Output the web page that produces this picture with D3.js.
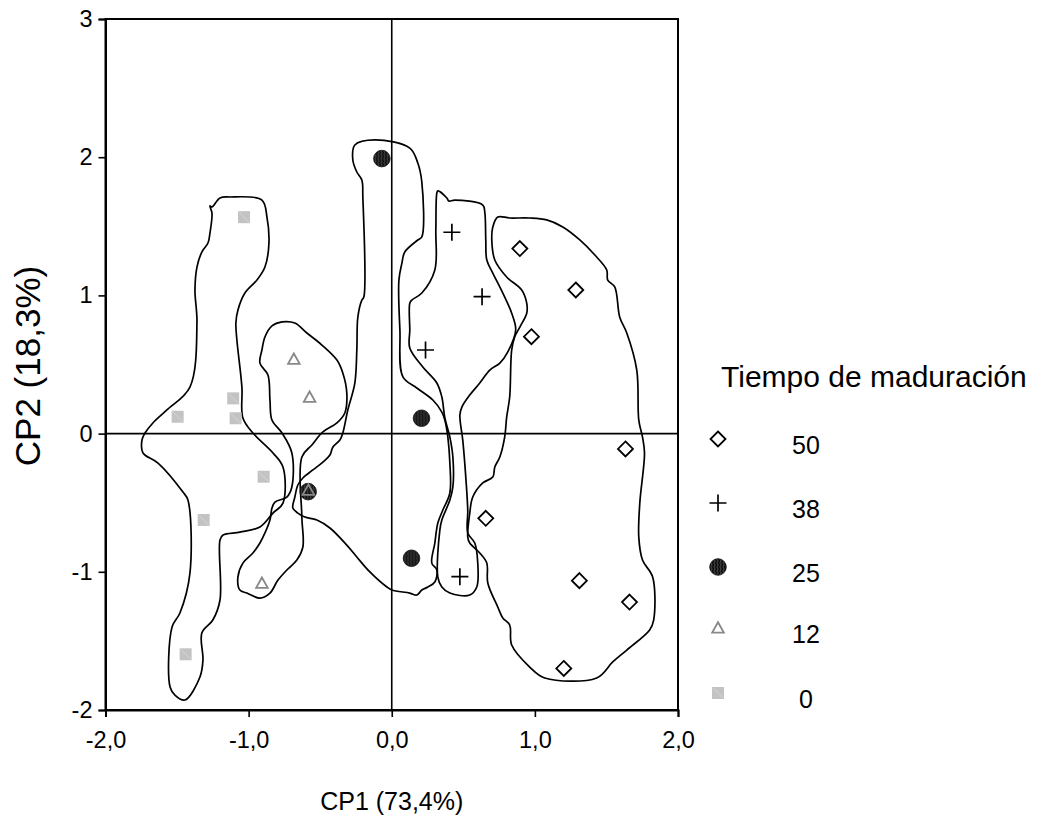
<!DOCTYPE html>
<html><head><meta charset="utf-8">
<script src="https://cdn.jsdelivr.net/npm/d3@7"></script>
<style>body{margin:0;background:#fff}svg{display:block;font-family:Arial,"Liberation Sans",sans-serif}</style>
</head><body><svg id="c" width="1038" height="836"></svg>
<script>
// ---- data ----
const groups = ["50","38","25","12","0"];
const g50 = [[0.895,1.339],[1.286,1.039],[0.976,0.701],[1.633,-0.111],[0.657,-0.613],[1.311,-1.064],[1.661,-1.219],[1.202,-1.699]];
const g38 = [[0.420,1.457],[0.631,0.991],[0.236,0.605],[0.476,-1.035]];
const g25 = [[-0.069,1.990],[0.208,0.111],[-0.584,-0.420],[0.138,-0.902]];
const g12 = [[-0.684,0.538],[-0.574,0.263],[-0.582,-0.410],[-0.907,-1.083]];
const g0  = [[-1.032,1.566],[-1.496,0.122],[-1.108,0.255],[-1.091,0.111],[-0.895,-0.312],[-1.314,-0.625],[-1.440,-1.597]];

const hull0 = [[-1.256,1.640],[-1.200,1.705],[-1.131,1.712],[-0.907,1.690],[-0.872,1.567],[-0.858,1.379],[-0.886,1.205],[-0.942,1.111],[-1.026,1.017],[-1.075,0.893],[-1.089,0.800],[-1.082,0.677],[-1.047,0.337],[-1.040,0.113],[-0.970,0.004],[-0.830,-0.140],[-0.760,-0.242],[-0.760,-0.503],[-0.830,-0.575],[-0.921,-0.676],[-1.061,-0.713],[-1.179,-0.734],[-1.200,-0.770],[-1.200,-1.204],[-1.250,-1.349],[-1.327,-1.443],[-1.319,-1.638],[-1.340,-1.761],[-1.445,-1.928],[-1.515,-1.892],[-1.549,-1.834],[-1.535,-1.399],[-1.480,-1.298],[-1.410,-1.009],[-1.424,-0.481],[-1.459,-0.423],[-1.633,-0.213],[-1.738,-0.140],[-1.745,-0.046],[-1.724,0.004],[-1.669,0.077],[-1.571,0.171],[-1.410,0.337],[-1.361,0.800],[-1.375,1.039],[-1.361,1.205],[-1.327,1.314],[-1.284,1.379],[-1.270,1.452],[-1.256,1.596],[-1.270,1.647]];
const hull12 = [[-0.886,0.699],[-0.837,0.779],[-0.767,0.808],[-0.677,0.800],[-0.593,0.728],[-0.488,0.641],[-0.383,0.532],[-0.342,0.439],[-0.314,0.294],[-0.328,0.149],[-0.383,0.077],[-0.481,0.012],[-0.558,-0.082],[-0.628,-0.169],[-0.628,-0.604],[-0.621,-0.821],[-0.663,-0.915],[-0.733,-0.987],[-0.795,-1.060],[-0.851,-1.154],[-0.921,-1.190],[-1.012,-1.154],[-1.061,-1.132],[-1.075,-1.038],[-1.040,-0.937],[-0.970,-0.864],[-0.921,-0.792],[-0.886,-0.719],[-0.851,-0.625],[-0.837,-0.539],[-0.816,-0.495],[-0.733,-0.459],[-0.698,-0.386],[-0.698,-0.140],[-0.767,0.004],[-0.837,0.098],[-0.851,0.243],[-0.865,0.424],[-0.921,0.510],[-0.907,0.605]];
const hull25 = [[-0.258,2.088],[-0.118,2.125],[0.126,2.066],[0.182,1.958],[0.210,1.821],[0.210,1.423],[0.182,1.401],[0.091,1.314],[0.071,1.234],[0.050,1.111],[0.057,0.750],[0.078,0.410],[0.175,0.330],[0.287,0.243],[0.350,0.156],[0.371,0.098],[0.392,-0.025],[0.406,-0.213],[0.406,-0.430],[0.357,-0.553],[0.322,-0.647],[0.301,-0.792],[0.280,-0.937],[0.315,-0.987],[0.301,-1.074],[0.252,-1.110],[0.210,-1.132],[0.175,-1.168],[0.126,-1.154],[0.001,-1.132],[-0.034,-1.110],[-0.153,-1.001],[-0.244,-0.893],[-0.314,-0.807],[-0.432,-0.683],[-0.523,-0.625],[-0.607,-0.604],[-0.656,-0.575],[-0.691,-0.539],[-0.677,-0.459],[-0.656,-0.372],[-0.621,-0.321],[-0.551,-0.263],[-0.481,-0.206],[-0.432,-0.155],[-0.411,-0.097],[-0.362,-0.046],[-0.342,0.004],[-0.307,0.171],[-0.258,0.366],[-0.244,0.605],[-0.237,0.842],[-0.209,0.966],[-0.195,0.988],[-0.202,1.712],[-0.209,1.835],[-0.244,1.893],[-0.272,1.980]];
const hull38 = [[0.322,1.756],[0.385,1.705],[0.399,1.683],[0.441,1.690],[0.636,1.654],[0.650,1.603],[0.657,1.401],[0.664,1.256],[0.706,1.162],[0.776,1.017],[0.838,0.871],[0.866,0.750],[0.810,0.590],[0.755,0.510],[0.685,0.460],[0.615,0.366],[0.545,0.279],[0.490,0.192],[0.476,0.135],[0.496,-0.046],[0.510,-0.213],[0.531,-0.553],[0.531,-0.719],[0.580,-0.792],[0.601,-0.937],[0.594,-1.110],[0.545,-1.168],[0.406,-1.154],[0.350,-1.110],[0.322,-1.038],[0.336,-0.698],[0.350,-0.625],[0.406,-0.481],[0.427,-0.386],[0.427,-0.169],[0.406,-0.025],[0.371,0.113],[0.350,0.265],[0.315,0.366],[0.217,0.482],[0.126,0.619],[0.126,0.750],[0.126,0.944],[0.140,0.966],[0.210,1.017],[0.301,1.184],[0.308,1.473],[0.315,1.741]];
const hull50 = [[0.741,1.567],[0.824,1.560],[0.964,1.560],[1.083,1.546],[1.195,1.495],[1.314,1.401],[1.419,1.292],[1.502,1.184],[1.509,1.111],[1.558,1.061],[1.593,0.842],[1.642,0.728],[1.712,0.460],[1.726,0.098],[1.752,-0.025],[1.766,-0.140],[1.733,-0.503],[1.726,-0.749],[1.752,-0.915],[1.823,-1.038],[1.830,-1.349],[1.802,-1.421],[1.642,-1.566],[1.544,-1.652],[1.432,-1.768],[1.069,-1.768],[0.964,-1.689],[0.838,-1.530],[0.824,-1.385],[0.776,-1.334],[0.741,-1.255],[0.671,-1.081],[0.664,-0.937],[0.615,-0.864],[0.545,-0.792],[0.531,-0.749],[0.545,-0.575],[0.566,-0.459],[0.636,-0.357],[0.706,-0.314],[0.720,-0.242],[0.755,-0.169],[0.789,-0.025],[0.803,0.120],[0.824,0.265],[0.838,0.605],[0.859,0.699],[0.895,0.771],[0.943,0.871],[0.943,0.944],[0.908,1.039],[0.803,1.133],[0.720,1.256],[0.699,1.401],[0.706,1.495]];

const xTicks = [-2,-1,0,1,2];
const yTicks = [-2,-1,0,1,2,3];
const xTitle = "CP1 (73,4%)";
const yTitle = "CP2 (18,3%)";
const legendTitle = "Tiempo de maduración";

// ---- layout ----
const svg = d3.select("#c");
const L = 105.5, R = 678, T = 19, B = 710;
const x = d3.scaleLinear().domain([-2,2]).range([L,R]);
const y = d3.scaleLinear().domain([-2,3]).range([B,T]);

const defs = svg.append("defs");
const pat = defs.append("pattern").attr("id","hatch").attr("patternUnits","userSpaceOnUse")
  .attr("width",3).attr("height",4);
pat.append("rect").attr("width",3).attr("height",4).attr("fill","#3a3a3a");
pat.append("path").attr("d","M0.5,0 L1.5,2 L0.5,4").attr("stroke","#000").attr("stroke-width",1.1).attr("fill","none");

// frame
svg.append("rect").attr("x",L).attr("y",T).attr("width",R-L).attr("height",B-T)
  .attr("fill","none").attr("stroke","#000").attr("stroke-width",2);
// reference lines
svg.append("line").attr("x1",x(0)).attr("x2",x(0)).attr("y1",T).attr("y2",B).attr("stroke","#000").attr("stroke-width",1.6);
svg.append("line").attr("x1",L).attr("x2",R).attr("y1",y(0)).attr("y2",y(0)).attr("stroke","#000").attr("stroke-width",1.6);

// axes
const fmtX = d => d3.format(".1f")(d).replace(".",",").replace("−","-");
const ax = svg.append("g").attr("transform",`translate(0,${B})`)
  .call(d3.axisBottom(x).tickValues(xTicks).tickSize(7).tickPadding(14).tickFormat(fmtX));
const ay = svg.append("g").attr("transform",`translate(${L},0)`)
  .call(d3.axisLeft(y).tickValues(yTicks).tickSize(7).tickPadding(6).tickFormat(d=>String(d).replace("−","-")));
[ax,ay].forEach(a=>{
  a.select(".domain").attr("stroke-width",2);
  a.selectAll(".tick line").attr("stroke-width",1.6);
  a.selectAll("text").attr("font-size",23.5).attr("fill","#000").attr("font-family","Arial, 'Liberation Sans', sans-serif");
});

// hulls
const line = d3.line().x(d=>x(d[0])).y(d=>y(d[1])).curve(d3.curveCatmullRomClosed.alpha(0.5));
[hull0,hull12,hull25,hull38,hull50].forEach(h=>{
  svg.append("path").attr("d",line(h)).attr("fill","none").attr("stroke","#000").attr("stroke-width",1.7);
});

// symbols
const sym = {
  "50": g=>g.append("path").attr("d","M0,-7.5L7.5,0L0,7.5L-7.5,0Z").attr("fill","#fff").attr("stroke","#000").attr("stroke-width",1.8),
  "38": g=>g.append("path").attr("d","M-8.5,0H8.5M0,-8.5V8.5").attr("stroke","#000").attr("stroke-width",1.7),
  "25": g=>g.append("circle").attr("r",8.3).attr("fill","url(#hatch)").attr("stroke","#111").attr("stroke-width",0.8),
  "12": g=>g.append("path").attr("d","M0,-5.8L5.8,4.6L-5.8,4.6Z").attr("fill","none").attr("stroke","#888").attr("stroke-width",1.8),
  "0":  g=>{g.append("rect").attr("x",-6).attr("y",-6).attr("width",12).attr("height",12).attr("fill","#c3c3c3");
           g.append("path").attr("d","M-5,-5L5,5").attr("stroke","#d9d9d9").attr("stroke-width",0.8);}
};
const data = {"50":g50,"38":g38,"25":g25,"12":g12,"0":g0};
groups.forEach(k=>{
  data[k].forEach(p=>{
    const g = svg.append("g").attr("transform",`translate(${x(p[0])},${y(p[1])})`);
    sym[k](g);
  });
});

// axis titles
svg.append("text").attr("x",x(0)).attr("y",810).attr("text-anchor","middle").attr("font-size",25).text(xTitle);
svg.append("text").attr("transform","translate(40,366) rotate(-90)").attr("text-anchor","middle").attr("font-size",35).text(yTitle);

// legend
svg.append("text").attr("x",721).attr("y",387).attr("font-size",30).text(legendTitle);
const symY = [439,503,567,628,693];
groups.forEach((k,i)=>{
  const g = svg.append("g").attr("transform",`translate(718,${symY[i]})`);
  sym[k](g);
  svg.append("text").attr("x",806).attr("y",symY[i]+6+9).attr("text-anchor","middle").attr("font-size",25).text(k);
});
</script></body></html>
